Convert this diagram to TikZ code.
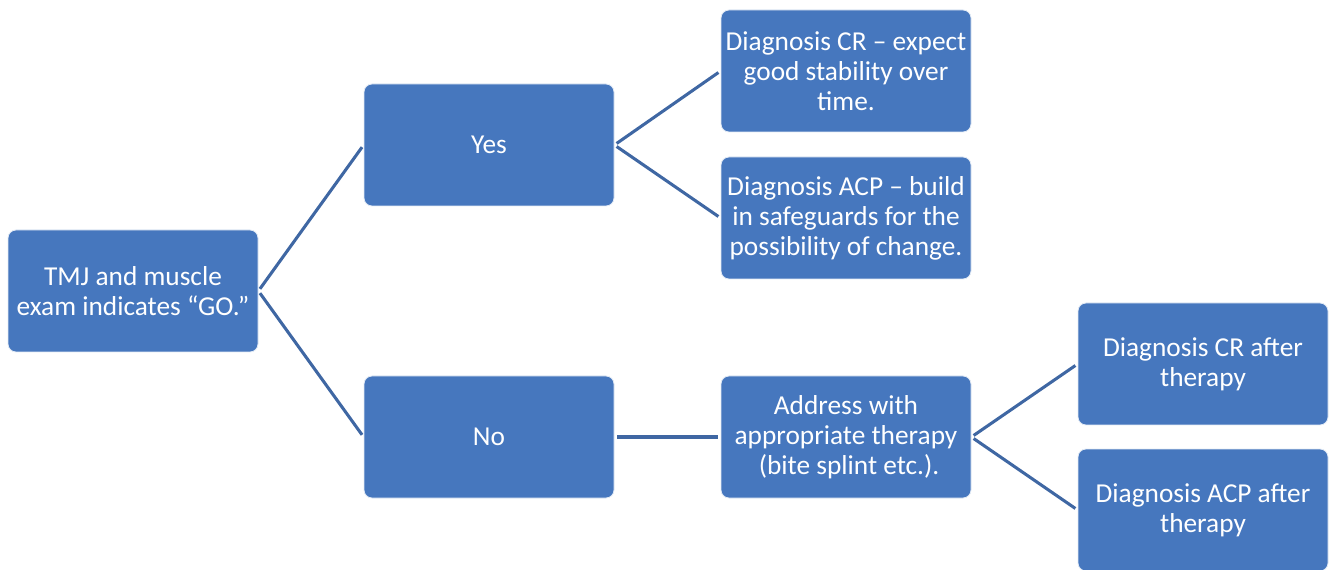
\documentclass[tikz,border=0pt]{standalone}
\usepackage{fontspec}
\setmainfont{Carlito}
\definecolor{boxfill}{HTML}{4677BE}
\definecolor{linkcol}{HTML}{3F67A3}
\begin{document}
\begin{tikzpicture}[x=0.75pt,y=-0.75pt,
  box/.style={rectangle, rounded corners=6pt, fill=boxfill, draw=white!85!boxfill, line width=0.6pt,
    minimum width=187.5pt, minimum height=91.5pt, inner sep=0pt, text=white, align=center,
    font=\fontsize{20.5}{22.5}\selectfont},
  link/.style={draw=linkcol, line width=2.3pt, shorten <=2pt, shorten >=2pt}]
\useasboundingbox (0,0) rectangle (1329,570);
\begin{scope}
\clip (0,0) rectangle (1329,570);
\node[box] (tmj) at (133,291) {TMJ and muscle\\exam indicates “GO.”};
\node[box] (yes) at (489,145) {Yes};
\node[box] (no) at (489,437) {No};
\node[box] (cr) at (846,71) {Diagnosis CR – expect\\good stability over\\time.};
\node[box] (acp) at (846,218) {Diagnosis ACP – build\\in safeguards for the\\possibility of change.};
\node[box] (addr) at (846,437) {Address with\\appropriate therapy\\\ (bite splint etc.).};
\node[box] (crafter) at (1203,364) {Diagnosis CR after\\therapy};
\node[box] (acpafter) at (1203,510) {Diagnosis ACP after\\therapy};
\draw[link] (tmj.east) -- (yes.west);
\draw[link] (tmj.east) -- (no.west);
\draw[link] (yes.east) -- (cr.west);
\draw[link] (yes.east) -- (acp.west);
\draw[link] (no.east) -- (addr.west);
\draw[link] (addr.east) -- (crafter.west);
\draw[link] (addr.east) -- (acpafter.west);
\end{scope}
\end{tikzpicture}
\end{document}
